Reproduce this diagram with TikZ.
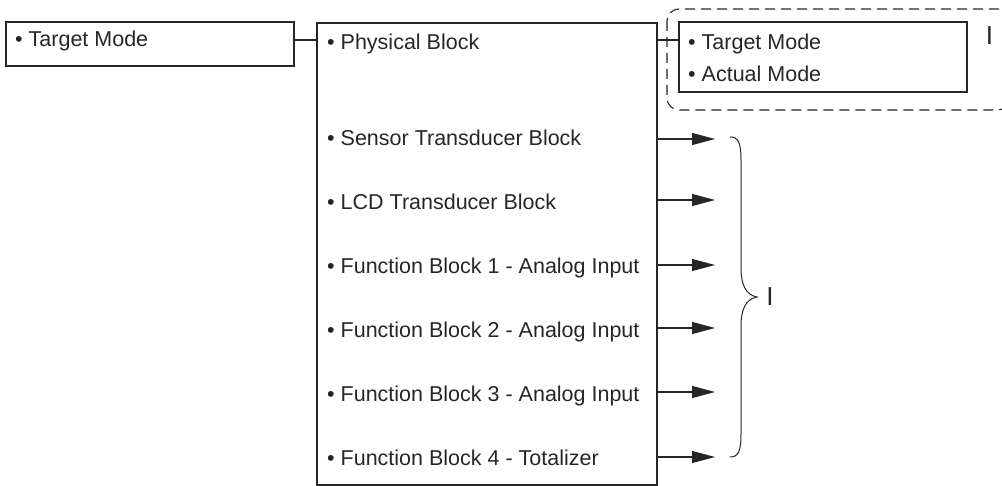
\documentclass[tikz,border=0pt]{standalone}
\usepackage{fontspec}
\setmainfont{Liberation Sans}
\usetikzlibrary{arrows.meta}
\begin{document}
\begin{tikzpicture}[x=1pt,y=-1pt,
  box/.style={draw=black!85,line width=1.1pt,inner sep=0pt,minimum width=#1},
  txt/.style={anchor=base west,inner sep=0pt,font=\fontsize{21.5}{24}\selectfont,text=black!85},
  bigI/.style={inner sep=0pt,font=\fontsize{26}{28}\selectfont,text=black!85},
  line/.style={draw=black!85,line width=1.1pt},
  arr/.style={line,-{Triangle[length=23pt,width=12pt]}},
  dashbox/.style={draw=black!85,line width=1.1pt,dash pattern=on 10pt off 6pt,rounded corners=12pt}
]
\useasboundingbox (0,0) rectangle (1002,486);
% boxes
\node[box=288pt,minimum height=44pt] (lbox) at (150,44) {};
\node[box=340pt,minimum height=462pt] (main) at (487,254) {};
\node[box=288pt,minimum height=70pt] (tbox) at (823,57) {};
% texts
\node[txt] (lt) at (15,47) {• Target Mode};
\node[txt] (t0) at (327,49.3) {• Physical Block};
\node[txt] (t1) at (327,145.7) {• Sensor Transducer Block};
\node[txt] (t2) at (327,209.3) {• LCD Transducer Block};
\node[txt] (t3) at (327,273.3) {• Function Block 1 - Analog Input};
\node[txt] (t4) at (327,337.3) {• Function Block 2 - Analog Input};
\node[txt] (t5) at (327,401.7) {• Function Block 3 - Analog Input};
\node[txt] (t6) at (327,465) {• Function Block 4 - Totalizer};
\node[txt] (r1) at (688,50) {• Target Mode};
\node[txt] (r2) at (688,81.7) {• Actual Mode};
\node[bigI] (i1) at (989.5,36) {I};
\node[bigI] (i2) at (770,297) {I};
% connectors
\coordinate (j1) at (0,40);
\draw[line] (lbox.east |- j1) -- (main.west |- j1);
\draw[line] (main.east |- j1) -- (tbox.west |- j1);
\coordinate (a1) at (715,139);
\coordinate (a2) at (715,200);
\coordinate (a3) at (715,265);
\coordinate (a4) at (715,328);
\coordinate (a5) at (715,392);
\coordinate (a6) at (715,457);
\foreach \a in {a1,a2,a3,a4,a5,a6}{
  \draw[arr] (main.east |- \a) -- (\a);
}
% brace
\draw[line,line width=1pt] (730,137) .. controls (738,137) and (741,142) .. (741,160)
  -- (741,268) .. controls (741,285) and (746,295) .. (757,297)
  .. controls (746,299) and (741,309) .. (741,326)
  -- (741,434) .. controls (741,452) and (738,457) .. (730,457);
% dashed group
\begin{scope}
\clip (0,0) rectangle (1002,486);
\draw[dashbox] (667,9) rectangle (1010,110);
\end{scope}
\end{tikzpicture}
\end{document}
